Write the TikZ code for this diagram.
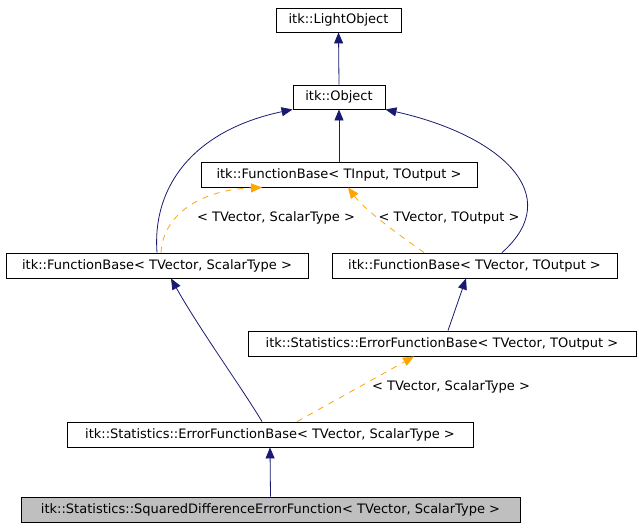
\documentclass[tikz,border=0pt]{standalone}
\usepackage{fontspec}
\setmainfont{DejaVu Sans}
\usetikzlibrary{arrows.meta}
\definecolor{edgeblue}{HTML}{191970}
\definecolor{edgeorange}{HTML}{FFA500}
\definecolor{boxgray}{HTML}{BFBFBF}
\begin{document}
\begin{tikzpicture}[x=1pt,y=-1pt,
  box/.style={draw=black, line width=0.9pt, rectangle, inner sep=0pt,
    font=\fontsize{13}{15}\selectfont},
  lbl/.style={inner sep=0pt, font=\fontsize{13}{15}\selectfont},
  inh/.style={draw=edgeblue, line width=0.8pt, -{Triangle[length=11pt,width=9pt]}},
  tmpl/.style={draw=edgeorange, line width=0.8pt, dash pattern=on 6pt off 6pt,
    -{Triangle[length=11pt,width=9pt]}}]
\useasboundingbox (0,0) rectangle (639,528);
\node[box, minimum width=125pt, minimum height=24pt] (lo) at (338.5,20) {itk::LightObject};
\node[box, minimum width=92pt, minimum height=24pt] (ob) at (339,97) {itk::Object};
\node[box, minimum width=276pt, minimum height=25pt] (fbin) at (339,174.5) {itk::FunctionBase< TInput, TOutput >};
\node[box, minimum width=302pt, minimum height=25pt] (fbvs) at (157,265.5) {itk::FunctionBase< TVector, ScalarType >};
\node[box, minimum width=285pt, minimum height=25pt] (fbvo) at (474.5,265.5) {itk::FunctionBase< TVector, TOutput >};
\node[box, minimum width=388pt, minimum height=25pt] (efbo) at (442,343.5) {itk::Statistics::ErrorFunctionBase< TVector, TOutput >};
\node[box, minimum width=406pt, minimum height=25pt] (efbs) at (270,434.5) {itk::Statistics::ErrorFunctionBase< TVector, ScalarType >};
\node[box, fill=boxgray, minimum width=499pt, minimum height=25pt] (sq) at (270.5,509.5) {itk::Statistics::SquaredDifferenceErrorFunction< TVector, ScalarType >};

\draw[inh] (ob.north) -- (lo.south);
\draw[inh] (fbin.north) -- (ob.south);
\draw[inh] (fbvs.north) .. controls (152,185) and (195,130) .. (ob.south west);
\draw[inh] ([xshift=27.5pt]fbvo.north) .. controls (567,195) and (500,135) .. (ob.south east);
\draw[tmpl] ([xshift=4pt]fbvs.north) .. controls (163,215) and (200,190) .. ([xshift=-77pt]fbin.south);
\draw[tmpl] ([xshift=-50.5pt]fbvo.north) .. controls (395,232) and (365,210) .. ([xshift=9pt]fbin.south);
\draw[inh] ([xshift=6pt]efbo.north) -- ([xshift=-8.5pt]fbvo.south);
\draw[inh] ([xshift=-8pt]efbs.north) .. controls (240,385) and (200,330) .. ([xshift=14pt]fbvs.south);
\draw[tmpl] ([xshift=27pt]efbs.north) -- ([xshift=-28pt]efbo.south);
\draw[inh] (sq.north) -- (efbs.south);

\node[lbl] (l1) at (276,218) {< TVector, ScalarType >};
\node[lbl] (l2) at (449,218) {< TVector, TOutput >};
\node[lbl] (l3) at (451,387) {< TVector, ScalarType >};
\end{tikzpicture}
\end{document}
